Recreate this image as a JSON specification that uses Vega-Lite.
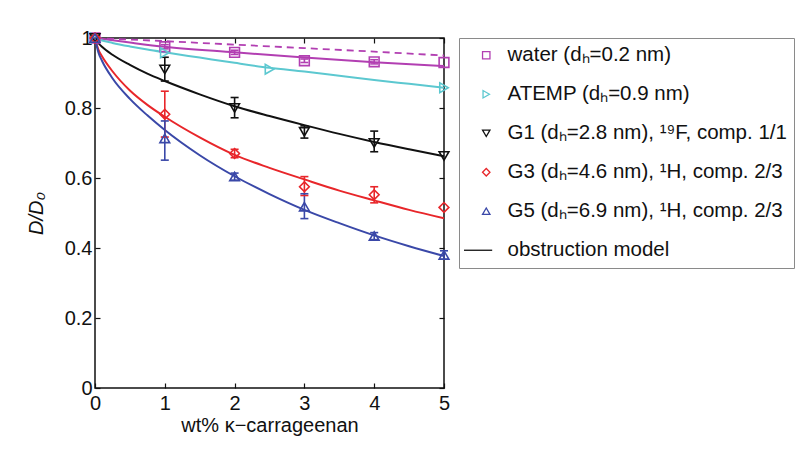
{
  "$schema": "https://vega.github.io/schema/vega-lite/v6.json",
  "width": 349,
  "height": 350,
  "autosize": {"type": "none"},
  "padding": {"left": 95, "top": 38, "right": 364, "bottom": 62},
  "background": "white",
  "config": {
    "font": "Liberation Sans",
    "view": {"stroke": "#111111", "strokeWidth": 1.5},
    "axis": {
      "grid": false,
      "domain": false,
      "tickColor": "#111111",
      "tickWidth": 1.2,
      "tickSize": -5,
      "labelFontSize": 20,
      "labelColor": "#111111",
      "labelFlush": false,
      "labelOverlap": false,
      "titleFontSize": 20,
      "titleFontWeight": "normal",
      "titleColor": "#111111"
    },
    "legend": {
      "orient": "right",
      "offset": 11,
      "padding": 7,
      "strokeColor": "#8a8a8a",
      "fillColor": "white",
      "labelFontSize": 20.5,
      "labelColor": "#111111",
      "labelOffset": 11,
      "symbolOffset": 10,
      "rowPadding": 18,
      "symbolSize": 55,
      "symbolStrokeWidth": 1.3,
      "labelLimit": 400
    }
  },
  "datasets": {
    "curves": [
      {"series": "water", "x": 0, "y": 1}, {"series": "water", "x": 0.5, "y": 0.987}, {"series": "water", "x": 1, "y": 0.975}, {"series": "water", "x": 2, "y": 0.959}, {"series": "water", "x": 3, "y": 0.944}, {"series": "water", "x": 4, "y": 0.931}, {"series": "water", "x": 5, "y": 0.92},
      {"series": "ATEMP", "x": 0, "y": 1}, {"series": "ATEMP", "x": 0.1, "y": 0.993}, {"series": "ATEMP", "x": 0.25, "y": 0.986}, {"series": "ATEMP", "x": 0.5, "y": 0.976}, {"series": "ATEMP", "x": 0.75, "y": 0.967}, {"series": "ATEMP", "x": 1, "y": 0.959}, {"series": "ATEMP", "x": 1.5, "y": 0.944}, {"series": "ATEMP", "x": 2, "y": 0.929}, {"series": "ATEMP", "x": 2.5, "y": 0.915}, {"series": "ATEMP", "x": 3, "y": 0.904}, {"series": "ATEMP", "x": 3.5, "y": 0.892}, {"series": "ATEMP", "x": 4, "y": 0.88}, {"series": "ATEMP", "x": 4.5, "y": 0.869}, {"series": "ATEMP", "x": 5, "y": 0.858},
      {"series": "G1", "x": 0, "y": 1}, {"series": "G1", "x": 0.05, "y": 0.985}, {"series": "G1", "x": 0.1, "y": 0.975}, {"series": "G1", "x": 0.25, "y": 0.952}, {"series": "G1", "x": 0.5, "y": 0.923}, {"series": "G1", "x": 0.75, "y": 0.898}, {"series": "G1", "x": 1, "y": 0.877}, {"series": "G1", "x": 1.5, "y": 0.839}, {"series": "G1", "x": 2, "y": 0.805}, {"series": "G1", "x": 2.5, "y": 0.777}, {"series": "G1", "x": 3, "y": 0.751}, {"series": "G1", "x": 3.5, "y": 0.726}, {"series": "G1", "x": 4, "y": 0.703}, {"series": "G1", "x": 4.5, "y": 0.682}, {"series": "G1", "x": 5, "y": 0.662},
      {"series": "G3", "x": 0, "y": 1}, {"series": "G3", "x": 0.05, "y": 0.966}, {"series": "G3", "x": 0.1, "y": 0.948}, {"series": "G3", "x": 0.25, "y": 0.905}, {"series": "G3", "x": 0.5, "y": 0.85}, {"series": "G3", "x": 0.75, "y": 0.809}, {"series": "G3", "x": 1, "y": 0.775}, {"series": "G3", "x": 1.5, "y": 0.716}, {"series": "G3", "x": 2, "y": 0.666}, {"series": "G3", "x": 2.5, "y": 0.629}, {"series": "G3", "x": 3, "y": 0.596}, {"series": "G3", "x": 3.5, "y": 0.564}, {"series": "G3", "x": 4, "y": 0.536}, {"series": "G3", "x": 4.5, "y": 0.509}, {"series": "G3", "x": 5, "y": 0.485},
      {"series": "G5", "x": 0, "y": 1}, {"series": "G5", "x": 0.05, "y": 0.958}, {"series": "G5", "x": 0.1, "y": 0.935}, {"series": "G5", "x": 0.25, "y": 0.885}, {"series": "G5", "x": 0.5, "y": 0.826}, {"series": "G5", "x": 0.75, "y": 0.779}, {"series": "G5", "x": 1, "y": 0.737}, {"series": "G5", "x": 1.5, "y": 0.665}, {"series": "G5", "x": 2, "y": 0.605}, {"series": "G5", "x": 2.5, "y": 0.554}, {"series": "G5", "x": 3, "y": 0.509}, {"series": "G5", "x": 3.5, "y": 0.471}, {"series": "G5", "x": 4, "y": 0.436}, {"series": "G5", "x": 4.5, "y": 0.405}, {"series": "G5", "x": 5, "y": 0.377}
    ],
    "dashed": [
      {"x": 0, "y": 1}, {"x": 1, "y": 0.991}, {"x": 2, "y": 0.981}, {"x": 3, "y": 0.971}, {"x": 4, "y": 0.961}, {"x": 5, "y": 0.95}
    ],
    "points": [
      {"series": "water", "x": 0, "y": 1}, {"series": "water", "x": 1, "y": 0.975}, {"series": "water", "x": 2, "y": 0.959}, {"series": "water", "x": 3, "y": 0.935}, {"series": "water", "x": 4, "y": 0.932}, {"series": "water", "x": 5, "y": 0.93},
      {"series": "ATEMP", "x": 0, "y": 1}, {"series": "ATEMP", "x": 1, "y": 0.958}, {"series": "ATEMP", "x": 2.5, "y": 0.911}, {"series": "ATEMP", "x": 5, "y": 0.858},
      {"series": "G1", "x": 0, "y": 1}, {"series": "G1", "x": 1, "y": 0.91}, {"series": "G1", "x": 2, "y": 0.8}, {"series": "G1", "x": 3, "y": 0.732}, {"series": "G1", "x": 4, "y": 0.7}, {"series": "G1", "x": 5, "y": 0.663},
      {"series": "G3", "x": 0, "y": 1}, {"series": "G3", "x": 1, "y": 0.782}, {"series": "G3", "x": 2, "y": 0.67}, {"series": "G3", "x": 3, "y": 0.575}, {"series": "G3", "x": 4, "y": 0.552}, {"series": "G3", "x": 5, "y": 0.516},
      {"series": "G5", "x": 0, "y": 1}, {"series": "G5", "x": 1, "y": 0.713}, {"series": "G5", "x": 2, "y": 0.604}, {"series": "G5", "x": 3, "y": 0.518}, {"series": "G5", "x": 4, "y": 0.434}, {"series": "G5", "x": 5, "y": 0.38}
    ],
    "errors": [
      {"series": "water", "x": 1, "lo": 0.969, "hi": 0.981}, {"series": "water", "x": 2, "lo": 0.953, "hi": 0.965}, {"series": "water", "x": 3, "lo": 0.93, "hi": 0.94}, {"series": "water", "x": 4, "lo": 0.926, "hi": 0.938},
      {"series": "G1", "x": 1, "lo": 0.877, "hi": 0.945}, {"series": "G1", "x": 2, "lo": 0.772, "hi": 0.83}, {"series": "G1", "x": 3, "lo": 0.714, "hi": 0.749}, {"series": "G1", "x": 4, "lo": 0.675, "hi": 0.734},
      {"series": "G3", "x": 1, "lo": 0.717, "hi": 0.848}, {"series": "G3", "x": 2, "lo": 0.658, "hi": 0.682}, {"series": "G3", "x": 3, "lo": 0.55, "hi": 0.604}, {"series": "G3", "x": 4, "lo": 0.529, "hi": 0.575},
      {"series": "G5", "x": 1, "lo": 0.651, "hi": 0.763}, {"series": "G5", "x": 2, "lo": 0.594, "hi": 0.614}, {"series": "G5", "x": 3, "lo": 0.484, "hi": 0.555}, {"series": "G5", "x": 4, "lo": 0.424, "hi": 0.444}, {"series": "G5", "x": 5, "lo": 0.368, "hi": 0.392}
    ]
  },
  "layer": [
    {
      "data": {"name": "dashed"},
      "mark": {"type": "line", "color": "#b23fb2", "strokeWidth": 1.8, "strokeDash": [7, 5]},
      "encoding": {
        "x": {"field": "x", "type": "quantitative", "scale": {"domain": [0, 5], "nice": false},
          "axis": {"orient": "bottom", "values": [0, 1, 2, 3, 4, 5], "labelPadding": 10, "title": "wt% κ−carrageenan", "titlePadding": 2}},
        "y": {"field": "y", "type": "quantitative", "scale": {"domain": [0, 1], "nice": false},
          "axis": {"orient": "left", "values": [0, 0.2, 0.4, 0.6, 0.8, 1], "format": "~g", "labelPadding": 8, "title": "D/D₀", "titleFontStyle": "italic", "titlePadding": 18}}
      }
    },
    {
      "data": {"name": "curves"},
      "mark": {"type": "line", "strokeWidth": 2, "interpolate": "monotone"},
      "encoding": {
        "x": {"field": "x", "type": "quantitative", "axis": null},
        "y": {"field": "y", "type": "quantitative", "axis": null},
        "stroke": {"field": "series", "type": "nominal", "legend": null,
          "scale": {"domain": ["water", "ATEMP", "G1", "G3", "G5"], "range": ["#b23fb2", "#5cc8d0", "#111111", "#e8262a", "#3a48a8"]}}
      }
    },
    {
      "data": {"name": "errors"},
      "mark": {"type": "rule", "strokeWidth": 1.6},
      "encoding": {
        "x": {"field": "x", "type": "quantitative",
          "axis": {"orient": "top", "values": [0, 1, 2, 3, 4, 5], "labels": false, "title": null}},
        "y": {"field": "lo", "type": "quantitative",
          "axis": {"orient": "right", "values": [0, 0.2, 0.4, 0.6, 0.8, 1], "labels": false, "title": null}},
        "y2": {"field": "hi"},
        "stroke": {"field": "series", "type": "nominal", "legend": null}
      }
    },
    {
      "data": {"name": "errors"},
      "mark": {"type": "tick", "orient": "horizontal", "size": 8, "thickness": 1.6, "opacity": 1},
      "encoding": {
        "x": {"field": "x", "type": "quantitative", "axis": null},
        "y": {"field": "lo", "type": "quantitative", "axis": null},
        "fill": {"field": "series", "type": "nominal", "legend": null,
          "scale": {"domain": ["water", "ATEMP", "G1", "G3", "G5"], "range": ["#b23fb2", "#5cc8d0", "#111111", "#e8262a", "#3a48a8"]}}
      }
    },
    {
      "data": {"name": "errors"},
      "mark": {"type": "tick", "orient": "horizontal", "size": 8, "thickness": 1.6, "opacity": 1},
      "encoding": {
        "x": {"field": "x", "type": "quantitative", "axis": null},
        "y": {"field": "hi", "type": "quantitative", "axis": null},
        "fill": {"field": "series", "type": "nominal", "legend": null}
      }
    },
    {
      "data": {"name": "points"},
      "mark": {"type": "point", "filled": false, "strokeWidth": 1.6, "opacity": 1, "size": 95},
      "encoding": {
        "x": {"field": "x", "type": "quantitative", "axis": null},
        "y": {"field": "y", "type": "quantitative", "axis": null},
        "color": {"field": "series", "type": "nominal",
          "scale": {"domain": ["water", "ATEMP", "G1", "G3", "G5", "model"], "range": ["#b23fb2", "#5cc8d0", "#111111", "#e8262a", "#3a48a8", "#111111"]},
          "legend": {"title": null,
            "labelExpr": "datum.label == 'water' ? 'water (dₕ=0.2 nm)' : datum.label == 'ATEMP' ? 'ATEMP (dₕ=0.9 nm)' : datum.label == 'G1' ? 'G1 (dₕ=2.8 nm), ¹⁹F, comp. 1/1' : datum.label == 'G3' ? 'G3 (dₕ=4.6 nm), ¹H, comp. 2/3' : datum.label == 'G5' ? 'G5 (dₕ=6.9 nm), ¹H, comp. 2/3' : 'obstruction model'"}},
        "shape": {"field": "series", "type": "nominal",
          "scale": {"domain": ["water", "ATEMP", "G1", "G3", "G5", "model"], "range": ["square", "triangle-right", "triangle-down", "diamond", "triangle-up", "M-6,0H1.6"]},
          "legend": {"title": null,
            "labelExpr": "datum.label == 'water' ? 'water (dₕ=0.2 nm)' : datum.label == 'ATEMP' ? 'ATEMP (dₕ=0.9 nm)' : datum.label == 'G1' ? 'G1 (dₕ=2.8 nm), ¹⁹F, comp. 1/1' : datum.label == 'G3' ? 'G3 (dₕ=4.6 nm), ¹H, comp. 2/3' : datum.label == 'G5' ? 'G5 (dₕ=6.9 nm), ¹H, comp. 2/3' : 'obstruction model'"}}
      }
    }
  ],
  "resolve": {
    "axis": {"x": "independent", "y": "independent"}
  }
}
